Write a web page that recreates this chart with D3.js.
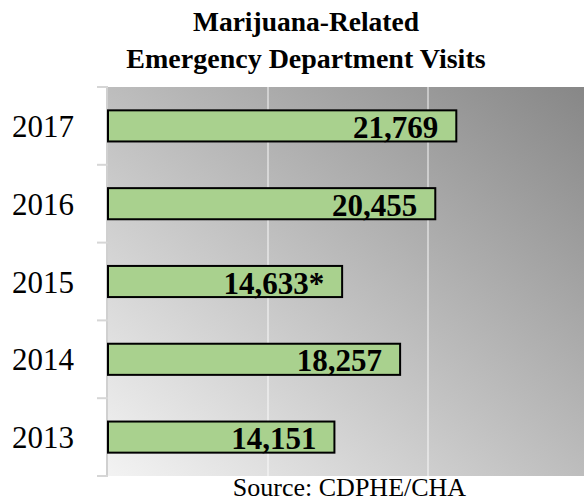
<!DOCTYPE html>
<html>
<head>
<meta charset="utf-8">
<script src="https://cdn.jsdelivr.net/npm/d3@7"></script>
<style>
  body { margin: 0; background: #fff; }
  text { font-family: "Liberation Serif", "Times New Roman", serif; }
</style>
</head>
<body>
<svg width="585" height="502"></svg>
<script>
var years = ["2017", "2016", "2015", "2014", "2013"];
var visits = [21769, 20455, 14633, 18257, 14151];
var labels = ["21,769", "20,455", "14,633*", "18,257", "14,151"];
var gridValues = [10000, 20000];

const svg = d3.select("svg");
const plotL = 108, plotR = 584, plotT = 87, plotB = 476;

var x = d3.scaleLinear().domain([0, 30000]).range([plotL, plotL + 480]);
var y = d3.scaleBand().domain(years).range([plotT, plotB])
  .paddingInner(0.6).paddingOuter(0.3);

// background gradient
var grad = svg.append("defs").append("linearGradient")
  .attr("id", "bg").attr("x1", 0).attr("y1", 1).attr("x2", 1).attr("y2", 0);
grad.append("stop").attr("offset", "0%").attr("stop-color", "#f3f3f3");
grad.append("stop").attr("offset", "100%").attr("stop-color", "#878787");

svg.append("rect")
  .attr("x", plotL).attr("y", plotT)
  .attr("width", plotR - plotL).attr("height", plotB - plotT)
  .attr("fill", "url(#bg)");

// gridlines
svg.selectAll(".grid")
  .data(gridValues)
  .enter()
  .append("line")
  .attr("x1", d => x(d)).attr("x2", d => x(d))
  .attr("y1", plotT).attr("y2", plotB)
  .attr("stroke", "#ffffff").attr("stroke-opacity", 0.45)
  .attr("stroke-width", 2);

// left axis line + ticks at band boundaries
svg.append("line")
  .attr("x1", plotL - 1).attr("x2", plotL - 1)
  .attr("y1", plotT).attr("y2", plotB)
  .attr("stroke", "#d0d0d0").attr("stroke-width", 2);

var step = y.step();
var tickYs = d3.range(years.length + 1).map(i => plotT + i * step);
svg.selectAll(".tick")
  .data(tickYs)
  .enter()
  .append("line")
  .attr("x1", plotL - 11).attr("x2", plotL)
  .attr("y1", d => d).attr("y2", d => d)
  .attr("stroke", "#d6d6d6").attr("stroke-width", 2);

// bars
svg.selectAll(".bar")
  .data(visits)
  .enter()
  .append("rect")
  .attr("x", x(0))
  .attr("y", (d, i) => y(years[i]))
  .attr("width", d => x(d) - x(0))
  .attr("height", y.bandwidth())
  .attr("fill", "#a9d18e")
  .attr("stroke", "#000")
  .attr("stroke-width", 2);

// value labels
svg.selectAll(".val")
  .data(visits)
  .enter()
  .append("text")
  .attr("x", d => x(d) - 18)
  .attr("y", (d, i) => y(years[i]) + y.bandwidth() / 2 + 12)
  .attr("text-anchor", "end")
  .attr("font-size", 31)
  .attr("font-weight", "bold")
  .attr("fill", "#000")
  .text((d, i) => labels[i]);

// year labels
svg.selectAll(".yr")
  .data(years)
  .enter()
  .append("text")
  .attr("x", 74)
  .attr("y", d => y(d) + y.bandwidth() / 2 + 11)
  .attr("text-anchor", "end")
  .attr("font-size", 31)
  .attr("fill", "#000")
  .text(d => d);

// title
svg.append("text")
  .attr("x", 306).attr("y", 31)
  .attr("text-anchor", "middle")
  .attr("font-size", 27.5).attr("font-weight", "bold")
  .text("Marijuana-Related");
svg.append("text")
  .attr("x", 306).attr("y", 68)
  .attr("text-anchor", "middle")
  .attr("font-size", 28).attr("font-weight", "bold")
  .text("Emergency Department Visits");

// source
svg.append("text")
  .attr("x", 349.5).attr("y", 496)
  .attr("text-anchor", "middle")
  .attr("font-size", 26)
  .text("Source: CDPHE/CHA");
</script>
</body>
</html>
